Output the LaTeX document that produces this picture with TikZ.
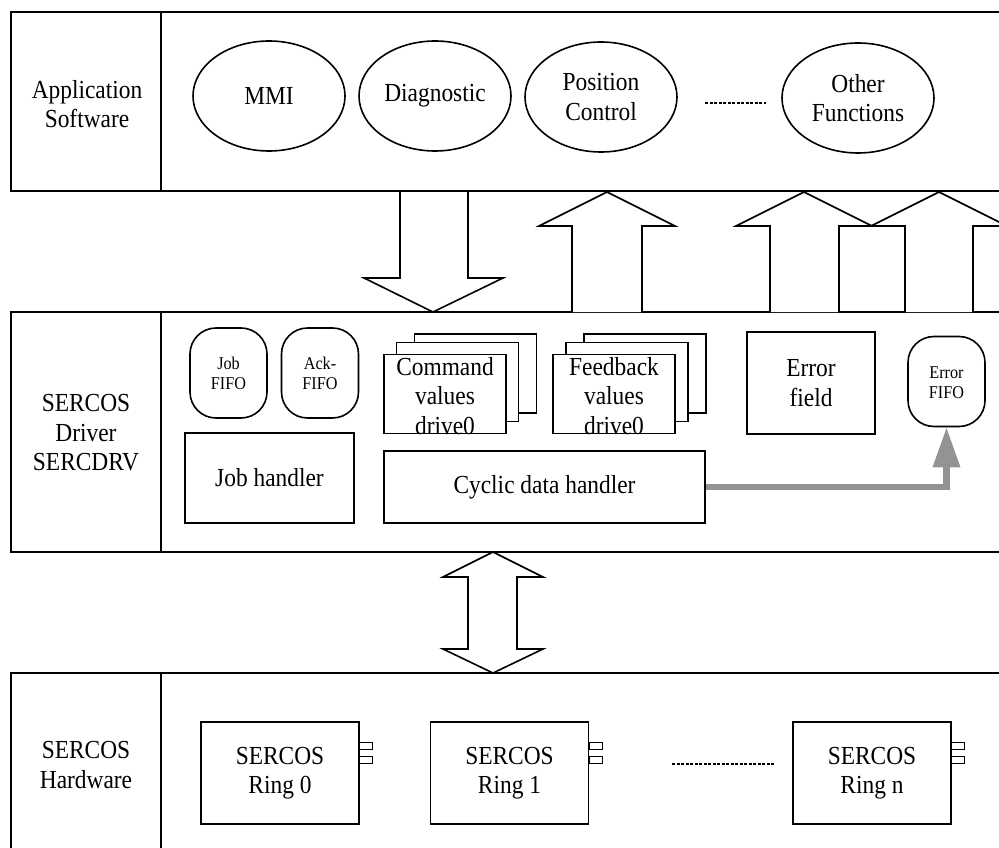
\documentclass[tikz,border=0pt]{standalone}
\usepackage{fontspec}
\setmainfont[FakeStretch=0.9]{Liberation Serif}
\usetikzlibrary{shapes.geometric,arrows.meta}
\begin{document}
\begin{tikzpicture}[x=1pt,y=-1pt,
  every node/.style={inner sep=0pt},
  ln/.style={line width=1.6pt},
  big/.style={font=\fontsize{26}{29.5}\selectfont, align=center},
  small/.style={font=\fontsize{18}{20}\selectfont, align=center},
  oval/.style={ellipse, draw, ln, minimum width=152pt, minimum height=110pt, big},
  fifo/.style={draw, ln, rounded corners=26pt, minimum width=77pt, minimum height=90pt, small},
  sheet/.style={draw, ln, fill=white, minimum width=122pt, minimum height=79pt},
  plainbox/.style={draw, ln, big},
  ring/.style={draw, ln, minimum width=158pt, minimum height=102pt, big},
  plug/.style={draw, line width=1.2pt},
  blockarrow/.style={draw, ln, fill=white, line join=miter},
  dots/.style={line width=1.3pt, dash pattern=on 3pt off 1.5pt}
]
\clip (0,0) rectangle (999,848);
\fill[white] (0,0) rectangle (999,848);

% ---------- bands ----------
\draw[ln] (1010,12) -- (11,12) -- (11,191) -- (1010,191);
\draw[ln] (161,12) -- (161,191);
\draw[ln] (1010,312) -- (11,312) -- (11,552) -- (1010,552);
\draw[ln] (161,312) -- (161,552);
\draw[ln] (1010,673) -- (11,673) -- (11,860);
\draw[ln] (161,673) -- (161,860);

\node[big] (lapp) at (87,104) {Application\\Software};
\node[big] (ldrv) at (86,433) {SERCOS\\Driver\\SERCDRV};
\node[big] (lhw) at (86,765) {SERCOS\\Hardware};

% ---------- application software ----------
\node[oval] (mmi) at (269,96) {MMI};
\node[oval] (diag) at (435,96) {Diagnostic};
\node[oval] (pos) at (601,97) {Position\\Control};
\node[oval] (oth) at (858,98) {Other\\Functions};
\coordinate (d1a) at (705,103);
\coordinate (d1b) at (766,103);
\draw[dots] (d1a) -- (d1b);

% ---------- block arrows between top and middle ----------
\draw[blockarrow] (400,191) -- (468,191) -- (468,278) -- (503,278) -- (433,312) -- (364,278) -- (400,278) -- cycle;
\draw[blockarrow] (572,312) -- (572,226) -- (539,226) -- (607,192) -- (675,226) -- (642,226) -- (642,312);
\draw[blockarrow] (770,312) -- (770,226) -- (736,226) -- (804,192) -- (872,226) -- (839,226) -- (839,312);
\draw[blockarrow] (905,312) -- (905,226) -- (871,226) -- (939,192) -- (1007,226) -- (973,226) -- (973,312);

% ---------- SERCOS driver ----------
\node[fifo] (jfifo) at (228.5,373) {Job\\FIFO};
\node[fifo] (afifo) at (320,373) {Ack-\\FIFO};
\node[plainbox, minimum width=169pt, minimum height=90pt] (jh) at (269.5,478) {Job handler};

\node[sheet] (cmd3) at (475.5,373.5) {};
\node[sheet] (cmd2) at (457.5,382) {};
\node[sheet] (cmd1) at (445,394) {};
\node[big] (cmdt) at (445,396) {Command\\values\\drive0};

\node[sheet] (fb3) at (645,373.5) {};
\node[sheet] (fb2) at (627,382) {};
\node[sheet] (fb1) at (614,394) {};
\node[big] (fbt) at (614,396) {Feedback\\values\\drive0};

\node[plainbox, minimum width=128pt, minimum height=102pt] (ef) at (811,383) {Error\\field};
\node[fifo] (efifo) at (946.5,381.5) {};
\node[small] (efifot) at (946.5,383) {Error\\FIFO};

\node[plainbox, minimum width=321pt, minimum height=72pt] (cyc) at (544.5,487) {Cyclic data handler};

\draw[gray!85, line width=6.5pt, -{Triangle[length=40pt,width=26pt]}] (cyc.east) -| (efifo.south);

% ---------- double arrow ----------
\draw[blockarrow] (493,552) -- (543,577) -- (517,577) -- (517,649) -- (543,649) -- (493,673) -- (443,649) -- (468,649) -- (468,577) -- (443,577) -- cycle;

% ---------- SERCOS hardware ----------
\node[ring] (r0) at (280,773) {SERCOS\\Ring 0};
\node[ring] (r1) at (509.5,773) {SERCOS\\Ring 1};
\node[ring] (rn) at (872,773) {SERCOS\\Ring n};
\foreach \r in {r0,r1,rn}{
  \draw[plug] ([yshift=-21pt]\r.north east) rectangle ++(13,7);
  \draw[plug] ([yshift=-35pt]\r.north east) rectangle ++(13,7);
}
\coordinate (d2a) at (672,764);
\coordinate (d2b) at (775,764);
\draw[dots] (d2a) -- (d2b);
\end{tikzpicture}
\end{document}
